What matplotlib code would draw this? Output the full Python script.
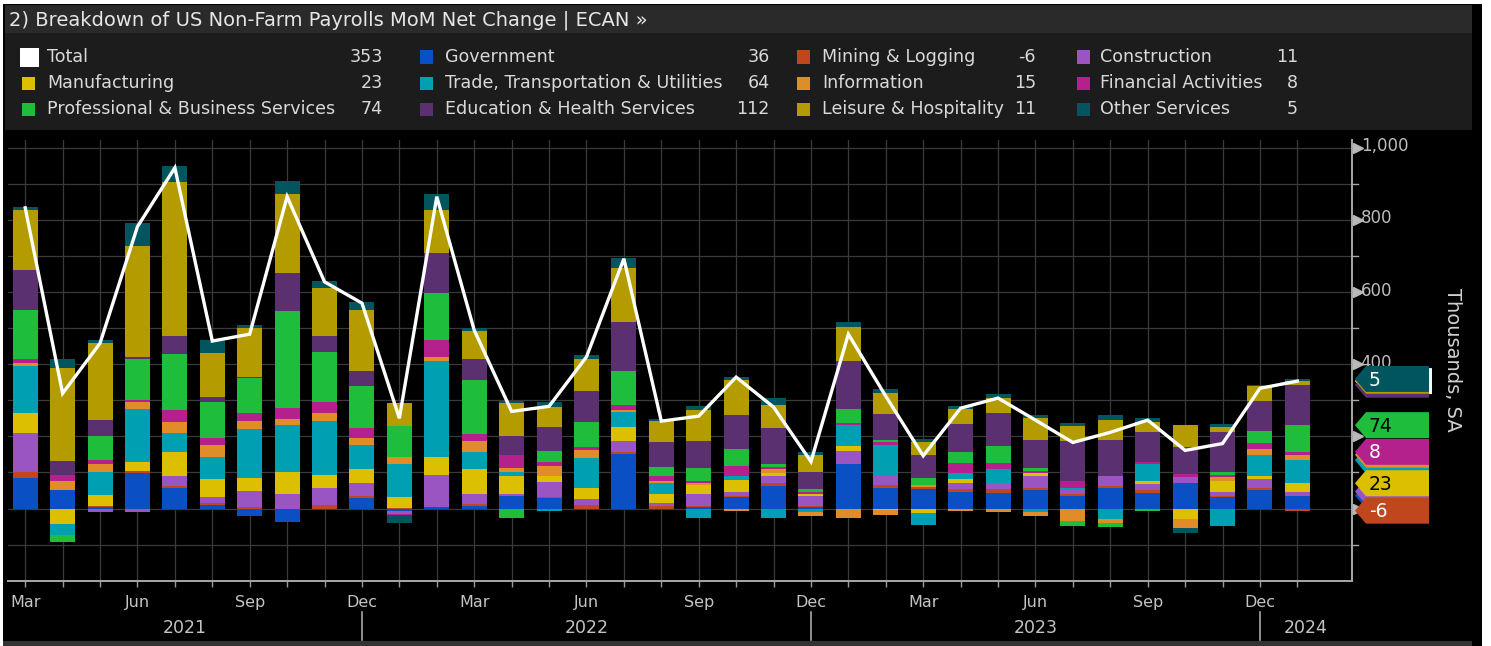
import numpy as np
import pandas as pd
import matplotlib
matplotlib.use("Agg")
import matplotlib.pyplot as plt
import matplotlib.transforms as mtransforms
from matplotlib.patches import Rectangle, Polygon
from matplotlib import font_manager

# ---- data (thousands, SA), Mar 2021 .. Jan 2024 ----
months = pd.date_range("2021-03-01", "2024-01-01", freq="MS")

government = [84, 51, 5, 98, 58, 9, -22, -37, 0, 28, -6, 3, 7, 35, 28, 0, 151, 0,
              3, 31, 63, 5, 123, 58, 54, 46, 44, 51, 35, 58, 44, 70, 31, 51, 36]
mining = [18, 0, 2, 6, 5, 7, 3, 0, 9, 7, 2, 0, 5, 0, 5, 9, 6, 7,
          4, 5, 7, 3, 0, 6, 5, 7, 9, 7, 5, 5, 7, 0, 5, 6, -6]
construction = [106, -2, -9, -9, 26, 16, 45, 40, 49, 35, -8, 91, 28, 5, 40, 17, 31, 7,
                33, 9, 20, 26, 37, 26, 0, 17, 17, 32, 11, 26, 16, 18, 11, 25, 11]
manufacturing = [56, -42, 30, 25, 67, 49, 37, 62, 35, 39, 31, 48, 69, 51, 18, 32, 37, 27,
                 26, 35, 9, 6, 12, -3, -13, 11, 0, 9, 0, 0, 9, -28, 28, 7, 23]
trade = [132, -30, 63, 146, 53, 63, 134, 130, 150, 68, 91, 267, 48, 9, -6, 83, 42, 31,
         -25, 11, -25, -9, 59, 85, -32, 17, 39, -11, 7, -30, 46, 0, -48, 60, 64]
information = [6, 26, 23, 20, 31, 32, 23, 17, 21, 18, 20, 10, 31, 11, 26, 20, 6, 5,
               6, -6, 11, -11, -25, -16, 5, -6, -9, -9, -34, -11, 0, -25, 12, 16, 15]
financial = [12, 17, 12, 7, 32, 18, 23, 30, 30, 28, -4, 47, 18, 38, 13, 10, 14, 14,
             3, 26, 6, 6, 5, 9, 0, 27, 16, 6, 18, 0, 8, 9, 7, 16, 8]
professional = [137, -20, 65, 111, 157, 100, 97, 267, 139, 117, 85, 130, 151, -25, 28, 69, 93, 23,
                37, 48, 6, 9, 39, 7, 21, 32, 47, 7, -14, -10, -6, 0, 8, 35, 74]
education = [111, 39, 46, 7, 49, 16, 3, 106, 46, 41, 0, 111, 56, 53, 68, 86, 137, 71,
             74, 95, 100, 47, 134, 70, 64, 77, 93, 79, 111, 102, 81, 74, 109, 83, 112]
leisure = [164, 255, 212, 306, 428, 120, 136, 220, 132, 169, 62, 119, 78, 91, 56, 88, 150, 58,
           86, 97, 65, 45, 93, 60, 35, 42, 41, 60, 42, 53, 28, 60, 14, 40, 11]
other = [9, 25, 10, 65, 42, 38, 7, 36, 20, 23, -22, 46, 10, 6, 12, 11, 28, 6,
         13, 6, 19, 9, 14, 9, 9, 9, 10, 9, 9, 16, 11, -16, 9, 2, 5]
total = [833, 319, 458, 781, 944, 464, 483, 864, 628, 569, 250, 864, 494, 269, 283, 420, 692, 242,
         256, 364, 281, 130, 483, 311, 146, 278, 306, 245, 183, 211, 245, 161, 180, 333, 353]

sector_names = ["Government", "Mining & Logging", "Construction", "Manufacturing",
                "Trade, Transportation & Utilities", "Information", "Financial Activities",
                "Professional & Business Services", "Education & Health Services",
                "Leisure & Hospitality", "Other Services"]
sector_values = [government, mining, construction, manufacturing, trade, information,
                 financial, professional, education, leisure, other]
sector_colors = ["#0a50c4", "#c0461e", "#9b55c3", "#dcc000", "#00a0b2", "#e08c28",
                 "#b4218c", "#1ebe3c", "#5a3070", "#b49b00", "#00555f"]

# ---- fonts ----
installed = {f.name for f in font_manager.fontManager.ttflist}
base_font = "Liberation Sans Narrow" if "Liberation Sans Narrow" in installed else "DejaVu Sans"
plt.rcParams["font.family"] = base_font

W, H = 1491, 646
fig = plt.figure(figsize=(W / 100, H / 100), dpi=100, facecolor="white")


def fx(px):
    return px / W


def fy(py):
    return 1 - py / H


def frame_rect(x0, y0, x1, y1, color):
    fig.add_artist(Rectangle((fx(x0), fy(y1)), fx(x1) - fx(x0), fy(y0) - fy(y1),
                             transform=fig.transFigure, facecolor=color,
                             edgecolor="none", zorder=-10))


# background panels
frame_rect(3, 4, 1482, 646, "black")
frame_rect(5, 5, 1472, 33, "#2a2a2a")
frame_rect(5, 33, 1472, 130, "#1c1c1c")
frame_rect(3, 641, 1472, 646, "#333333")

fig.text(fx(9), fy(20), "2) Breakdown of US Non-Farm Payrolls MoM Net Change | ECAN \u00bb",
         color="#e6e6e6", fontsize=14, va="center", ha="left")

# ---- legend block ----
legend_cols = [
    [("Total", "white", total[-1]),
     ("Manufacturing", sector_colors[3], manufacturing[-1]),
     ("Professional & Business Services", sector_colors[7], professional[-1])],
    [("Government", sector_colors[0], government[-1]),
     ("Trade, Transportation & Utilities", sector_colors[4], trade[-1]),
     ("Education & Health Services", sector_colors[8], education[-1])],
    [("Mining & Logging", sector_colors[1], mining[-1]),
     ("Information", sector_colors[5], information[-1]),
     ("Leisure & Hospitality", sector_colors[9], leisure[-1])],
    [("Construction", sector_colors[2], construction[-1]),
     ("Financial Activities", sector_colors[6], financial[-1]),
     ("Other Services", sector_colors[10], other[-1])],
]
col_square_x = [22, 420, 797, 1077]
col_label_x = [47, 445, 822, 1100]
col_value_x = [383, 770, 1036, 1298]
row_y = [57, 83, 109]
for c, entries in enumerate(legend_cols):
    for r, (name, color, val) in enumerate(entries):
        size = 19 if name == "Total" else 13
        sx = col_square_x[c] - (2 if name == "Total" else 0)
        fig.add_artist(Rectangle((fx(sx), fy(row_y[r] + size / 2)), size / W, size / H,
                                 transform=fig.transFigure, facecolor=color,
                                 edgecolor="none"))
        fig.text(fx(col_label_x[c]), fy(row_y[r]), name, color="#d9d9d9",
                 fontsize=12.6, va="center", ha="left")
        fig.text(fx(col_value_x[c]), fy(row_y[r]), f"{val}", color="#d9d9d9",
                 fontsize=12.6, va="center", ha="right")

# ---- main chart ----
ax = fig.add_axes([fx(8), fy(580.7), fx(1352) - fx(8), fy(140) - fy(580.7)])
ax.set_facecolor("black")

x = np.arange(len(months))
vals = np.array(sector_values, dtype=float)
pos = np.clip(vals, 0, None)
neg = np.clip(vals, None, 0)
pos_base = np.vstack([np.zeros(len(x)), np.cumsum(pos, axis=0)[:-1]])
neg_base = np.vstack([np.zeros(len(x)), np.cumsum(neg, axis=0)[:-1]])

bar_w = 0.67
for i, color in enumerate(sector_colors):
    ax.bar(x, pos[i], bottom=pos_base[i], width=bar_w, color=color, linewidth=0, zorder=3)
    ax.bar(x, neg[i], bottom=neg_base[i], width=bar_w, color=color, linewidth=0, zorder=3)

ax.plot(x, total, color="white", lw=2.4, zorder=5, solid_joinstyle="miter")

ax.set_xlim(-0.46, 35.46)
ax.set_ylim(-200, 1021)

ax.set_yticks(np.arange(-200, 1001, 100))
ax.yaxis.tick_right()
ax.tick_params(axis="y", length=0, labelright=False)
ax.set_xticks(x)
ax.set_xticklabels([m.strftime("%b") if m.month in (3, 6, 9, 12) else "" for m in months])
ax.tick_params(axis="x", length=4, width=1, color="#9a9a9a", labelcolor="#c4c4c4",
               labelsize=11.5, pad=6)
ax.grid(True, color="#3a3a3a", lw=0.9, zorder=0)
ax.set_axisbelow(True)
for side in ("top", "left"):
    ax.spines[side].set_visible(False)
for side in ("bottom", "right"):
    ax.spines[side].set_color("#a8a8a8")
    ax.spines[side].set_linewidth(1.4)

# right axis: triangle ticks, minor ticks and labels (200 and 0 sit under the tags)
ytrans = mtransforms.blended_transform_factory(ax.transAxes, ax.transData)
major = np.arange(0, 1001, 200)
ax.plot(np.full(len(major), 1.0045), major, ">", color="#b8b8b8", ms=7, transform=ytrans,
        clip_on=False, zorder=6)
for v in np.arange(-100, 1001, 200):
    ax.plot([1.0, 1.0045], [v, v], color="#a8a8a8", lw=1, transform=ytrans, clip_on=False, zorder=6)
for v in major[2:]:
    ax.text(1.0065, v + 4, f"{v:,}", color="#bdbdbd", fontsize=12, va="center", ha="left",
            transform=ytrans, zorder=6)

ax.text(1.075, 0.5, "Thousands, SA", rotation=270, color="#d0d0d0", fontsize=14,
        ha="center", va="center", transform=ax.transAxes)

# year labels and separators
xtrans = mtransforms.blended_transform_factory(ax.transData, ax.transAxes)
year_edges = [-0.46] + [i for i, m in enumerate(months) if m.month == 12] + [35.46]
years = sorted(set(m.year for m in months))
for k, yr in enumerate(years):
    ax.text((year_edges[k] + year_edges[k + 1]) / 2, -0.107, str(yr), color="#c4c4c4",
            fontsize=12.5, ha="center", va="center", transform=xtrans)
for edge in year_edges[1:-1]:
    ax.plot([edge, edge], [-0.071, -0.135], color="#a8a8a8", lw=1.2, transform=xtrans,
            clip_on=False)

# value tags on the right edge, stacked where each series ends
tag_half = 36
last = len(x) - 1
tag_level = {}
for i, name in enumerate(sector_names):
    if vals[i, last] >= 0:
        tag_level[name] = pos_base[i, last] + pos[i, last]
    else:
        tag_level[name] = neg_base[i, last] + neg[i, last]
tag_level["Total"] = total[-1]
tag_color = dict(zip(sector_names, sector_colors))
tag_color["Total"] = "white"
tag_value = dict(zip(sector_names, [v[-1] for v in sector_values]))
tag_value["Total"] = total[-1]
dark_text = {"Total", "Professional & Business Services", "Manufacturing", "Information"}
tag_order = ["Total", "Education & Health Services", "Leisure & Hospitality", "Other Services",
             "Professional & Business Services", "Trade, Transportation & Utilities",
             "Information", "Financial Activities", "Government", "Construction",
             "Manufacturing", "Mining & Logging"]
for k, name in enumerate(tag_order):
    lv = tag_level[name]
    right = 1.0595 if name == "Total" else 1.0573
    poly = Polygon([(1.0022, lv), (1.0104, lv + tag_half), (right, lv + tag_half),
                    (right, lv - tag_half), (1.0104, lv - tag_half)],
                   closed=True, facecolor=tag_color[name], edgecolor="none",
                   transform=ytrans, clip_on=False, zorder=10 + 2 * k)
    ax.add_patch(poly)
    # a label hidden by a later tag is not written
    covered = any(abs(tag_level[o] - lv) < 0.8 * tag_half for o in tag_order[k + 1:])
    if not covered:
        ax.text(1.0125, lv - 3, f"{tag_value[name]}",
                color="black" if name in dark_text else "white",
                fontsize=13.5, va="center", ha="left", transform=ytrans, zorder=11 + 2 * k)

fig.savefig("out.png", dpi=100, facecolor=fig.get_facecolor())
